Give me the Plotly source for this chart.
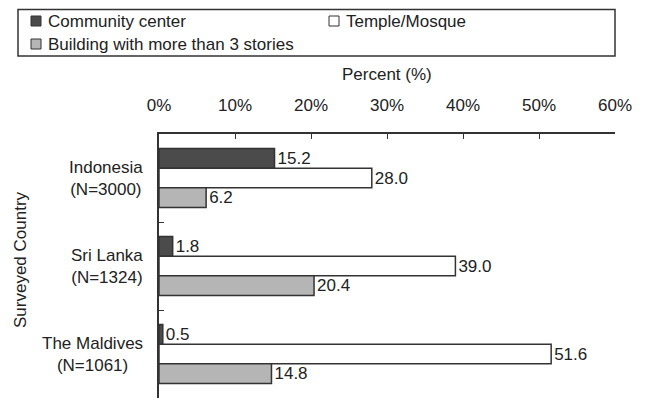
import plotly.graph_objects as go

# Data
countries = ['Indonesia<br>(N=3000)', 'Sri Lanka<br>(N=1324)', 'The Maldives<br>(N=1061)']
community_center = [15.2, 1.8, 0.5]
temple_mosque = [28.0, 39.0, 51.6]
tall_building = [6.2, 20.4, 14.8]

series = [
    ('Community center', community_center, '#4b4b4b'),
    ('Temple/Mosque', temple_mosque, '#ffffff'),
    ('Building with more than 3 stories', tall_building, '#b5b5b5'),
]

FONT = 'Liberation Sans, Arial, sans-serif'
INK = '#222222'
EDGE = '#333333'

# the page body keeps its default 8px margin, so the figure is drawn
# 8px smaller and everything below is given in page pixels
BODY = 8
W, H = 647 - BODY, 400 - BODY
PLOT_L, PLOT_R, PLOT_T, PLOT_B = 159, 615, 134, 398
M = dict(l=PLOT_L - BODY, r=647 - PLOT_R, t=PLOT_T - BODY, b=400 - PLOT_B)
PW = PLOT_R - PLOT_L
PH = PLOT_B - PLOT_T


def px(x):
    # page pixel -> paper x
    return (x - PLOT_L) / PW


def py(y):
    # page pixel -> paper y
    return (PLOT_B - y) / PH


fig = go.Figure()

for name, values, color in series:
    fig.add_trace(go.Bar(
        y=countries,
        x=values,
        name=name,
        orientation='h',
        marker=dict(color=color, line=dict(color=EDGE, width=1.5)),
        texttemplate='%{x:.1f}',
        textposition='outside',
        constraintext='none',
        cliponaxis=False,
        textfont=dict(size=17, color=INK, family=FONT),
        showlegend=False,
    ))

# category labels, centre aligned like the original
for c in countries:
    fig.add_annotation(
        x=0, xref='paper', y=c, yref='y',
        text=c, showarrow=False, align='center',
        xanchor='right', xshift=-14,
        font=dict(size=17, color=INK, family=FONT),
    )

# axis titles
fig.add_annotation(
    x=0, xref='paper', y=0.5, yref='paper',
    text='Surveyed Country', textangle=-90, showarrow=False,
    xanchor='center', yanchor='middle', xshift=-139, yshift=6,
    font=dict(size=17, color=INK, family=FONT),
)
fig.add_annotation(
    x=0.5, xref='paper', y=1, yref='paper',
    text='Percent (%)', showarrow=False,
    xanchor='center', yanchor='middle', yshift=60,
    font=dict(size=17, color=INK, family=FONT),
)

# boxed legend drawn by hand: two entries on the first row, one below
fig.add_shape(type='rect', xref='paper', yref='paper',
              x0=px(18), x1=px(615), y0=py(56), y1=py(9.5),
              line=dict(color=EDGE, width=1.5), fillcolor='white')
legend_slots = [(31, 21), (329, 21), (31, 44)]
for (name, _, color), (lx, ly) in zip(series, legend_slots):
    fig.add_shape(type='rect', xref='paper', yref='paper',
                  x0=px(lx), x1=px(lx + 10), y0=py(ly + 5), y1=py(ly - 5),
                  line=dict(color=EDGE, width=1), fillcolor=color)
    fig.add_annotation(x=px(lx + 15), y=py(ly), xref='paper', yref='paper',
                       text=name, showarrow=False, xanchor='left', yanchor='middle',
                       font=dict(size=17, color=INK, family=FONT))

fig.update_layout(
    width=W,
    height=H,
    barmode='group',
    bargap=0.33,
    bargroupgap=0,
    plot_bgcolor='white',
    paper_bgcolor='white',
    font=dict(family=FONT, size=17, color=INK),
    margin=M,
    showlegend=False,
    xaxis=dict(
        side='top',
        range=[0, 60],
        dtick=10,
        ticksuffix='%',
        ticks='inside',
        ticklen=5,
        tickcolor=EDGE,
        showline=True,
        linecolor=EDGE,
        linewidth=1.5,
        showgrid=False,
        zeroline=False,
        ticklabelstandoff=14,
        automargin=False,
        tickfont=dict(size=17),
    ),
    yaxis=dict(
        autorange='reversed',
        showticklabels=False,
        ticks='inside',
        tickson='boundaries',
        ticklen=5,
        tickcolor=EDGE,
        showline=True,
        linecolor=EDGE,
        linewidth=1.5,
        showgrid=False,
        automargin=False,
    ),
)

fig.write_html('out.html')
